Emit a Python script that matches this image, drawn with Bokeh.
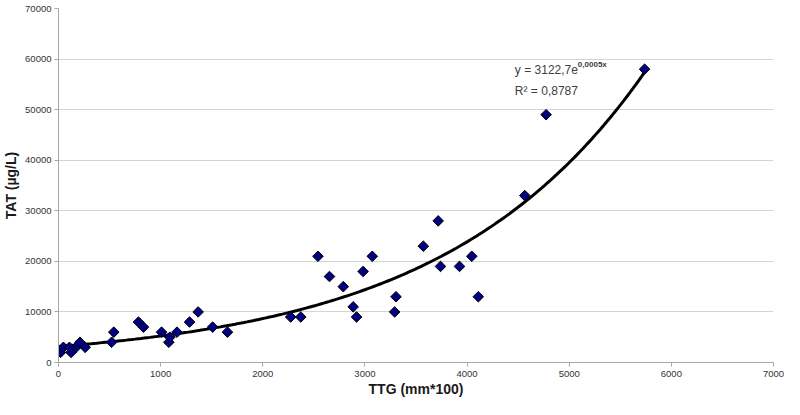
import numpy as np
from bokeh.plotting import figure
from bokeh.models import Range1d, SingleIntervalTicker, Label, ColumnDataSource
from bokeh.embed import file_html
from bokeh.resources import INLINE

# Data
ttg = [20, 48, 107, 123, 171, 210, 261, 520, 541, 783, 832, 1009, 1080, 1090,
       1160, 1283, 1367, 1509, 1654, 2273, 2372, 2540, 2653, 2788, 2885, 2918,
       2982, 3072, 3291, 3304, 3572, 3717, 3740, 3926, 4046, 4110, 4565, 4774, 5738]
tat = [2000, 3000, 3000, 2000, 3000, 4000, 3000, 4000, 6000, 8000, 7000, 6000, 4000, 5000,
       6000, 8000, 10000, 7000, 6000, 9000, 9000, 21000, 17000, 15000, 11000, 9000,
       18000, 21000, 10000, 13000, 23000, 28000, 19000, 19000, 21000, 13000, 33000, 49000, 58000]

x_label = "TTG (mm*100)"
y_label = "TAT (µg/L)"
eq_main = "y = 3122,7e"
eq_exp = "0,0005x"
r2_text = "R² = 0,8787"

# exponential trendline fitted to the data
b, ln_a = np.polyfit(np.array(ttg, float), np.log(np.array(tat, float)), 1)
xs = np.linspace(0, max(ttg), 200)
ys = np.exp(ln_a) * np.exp(b * xs)

p = figure(width=784, height=399, output_backend="svg", toolbar_location=None,
           x_range=Range1d(0, 7000), y_range=Range1d(0, 70000),
           min_border_left=51, min_border_right=11, min_border_top=8, min_border_bottom=33)
p.outline_line_color = None
p.background_fill_color = "white"

p.xaxis.ticker = SingleIntervalTicker(interval=1000)
p.yaxis.ticker = SingleIntervalTicker(interval=10000)
p.xgrid.grid_line_color = None
p.ygrid.grid_line_color = "#d4d4d4"
p.ygrid.grid_line_width = 1

for ax in (p.xaxis[0], p.yaxis[0]):
    ax.axis_line_color = "#a8a8a8"
    ax.major_tick_line_color = "#a8a8a8"
    ax.major_tick_out = 4
    ax.major_tick_in = 0
    ax.minor_tick_line_color = None
    ax.major_label_text_font = "Liberation Sans"
    ax.major_label_text_font_size = "9.5px"
    ax.major_label_text_color = "#333333"
    ax.axis_label_text_font = "Liberation Sans"
    ax.axis_label_text_font_style = "bold"
    ax.axis_label_text_font_size = "14px"
    ax.axis_label_text_color = "#1a1a1a"

p.xaxis.axis_label = x_label
p.yaxis.axis_label = y_label
p.xaxis.major_label_standoff = 4
p.xaxis.axis_label_standoff = 1
p.yaxis.major_label_standoff = 3
p.yaxis.axis_label_standoff = 3

p.line(xs, ys, line_color="black", line_width=3)

src = ColumnDataSource(dict(x=ttg, y=tat))
p.scatter("x", "y", source=src, marker="square", angle=np.pi / 4, size=7.5,
          fill_color="#000080", line_color="black", line_width=1)

lab1 = Label(x=4468, y=56400, text=eq_main, text_font="Liberation Sans",
             text_font_size="12px", text_color="#404040")
lab2 = Label(x=4468, y=56400, x_offset=63, y_offset=8, text=eq_exp,
             text_font="Liberation Sans", text_font_size="8px", text_font_style="bold",
             text_color="#404040")
lab3 = Label(x=4468, y=52400, text=r2_text, text_font="Liberation Sans",
             text_font_size="12px", text_color="#404040")
for l in (lab1, lab2, lab3):
    p.add_layout(l)

open("out.html", "w").write(file_html(p, INLINE))
